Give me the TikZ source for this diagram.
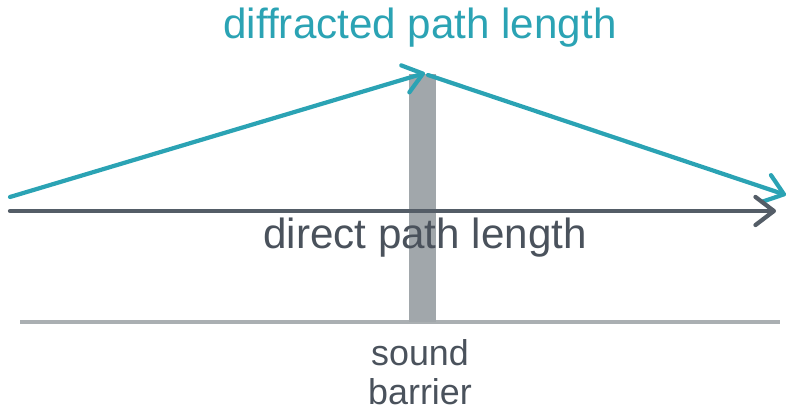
\documentclass[tikz,border=0pt]{standalone}
\usepackage{fontspec}
\setmainfont{Liberation Sans}
\usetikzlibrary{arrows.meta}
\definecolor{teal}{HTML}{2BA3B4}
\definecolor{darkg}{HTML}{545D67}
\definecolor{txtg}{HTML}{4A525C}
\definecolor{barg}{HTML}{A1A7AB}
\definecolor{gndg}{HTML}{AAAFB2}
\tikzset{
  chev/.style={-{Straight Barb[length=10.5pt,width=16pt,line cap=round,line join=round]}, line width=2.4pt, line cap=round},
  lbl/.style={inner sep=0pt, font=\fontsize{24}{28}\selectfont},
}
\begin{document}
\begin{tikzpicture}[x=0.02cm,y=-0.02cm]
\useasboundingbox (0,0) rectangle (790,411);
% ground
\coordinate (g1) at (20,322);
\coordinate (g2) at (780,322);
\draw[gndg, line width=1.8pt] (g1) -- (g2);
% barrier
\fill[barg] (409,74) rectangle (436,322);
% coordinates
\coordinate (s1) at (10,197);
\coordinate (top) at (425,73);
\coordinate (top2) at (428,75);
\coordinate (e1) at (786,195);
\coordinate (s2) at (10,211);
\coordinate (e2) at (776,211);
% paths
\draw[chev, teal] (s1) -- (top);
\draw[chev, teal] (top2) -- (e1);
\draw[chev, darkg] (s2) -- (e2);
% labels
\node[lbl, text=teal] (dl) at (420,28) {diffracted path length};
\node[lbl, text=txtg] (pl) at (425,238) {direct path length};
\node[inner sep=0pt, text=txtg, font=\fontsize{20.4}{24}\selectfont, align=center] (sb) at (420,372) {sound\\[-2pt]barrier};
\end{tikzpicture}
\end{document}
